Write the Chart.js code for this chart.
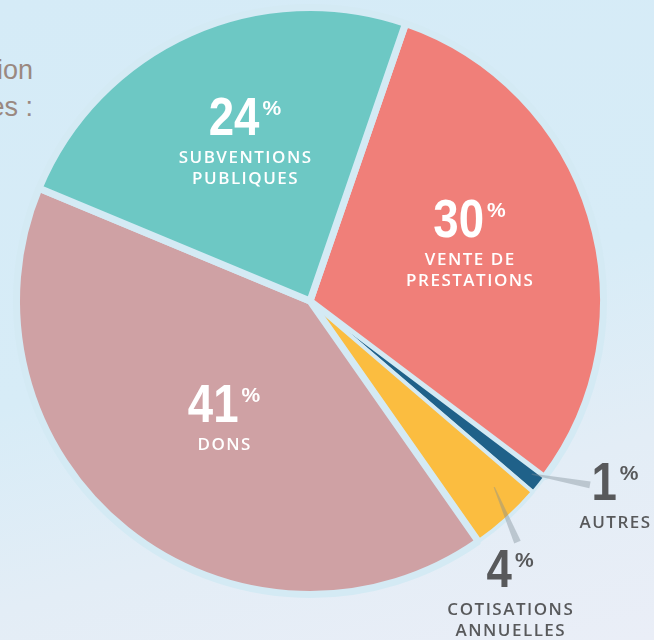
<!DOCTYPE html>
<html lang="fr">
<head>
<meta charset="utf-8">
<script src="https://cdn.jsdelivr.net/npm/chart.js@4.4.1/dist/chart.umd.min.js"></script>
<style>
  html, body { margin: 0; padding: 0; }
  body {
    width: 654px; height: 640px; overflow: hidden; position: relative;
    background: linear-gradient(165deg, #d5ebf7 0%, #d7ecf7 50%, #e3edf6 75%, #eaeef7 100%);
  }
  #wrap { position: absolute; left: 0; top: 0; width: 654px; height: 640px; }
  .intro {
    position: absolute; right: 621px; white-space: nowrap; text-align: right;
    font: 27px 'Liberation Sans Narrow', sans-serif; color: #9a8880;
  }
</style>
</head>
<body>
<div class="intro" style="top:55px">ion</div>
<div class="intro" style="top:92px">es :</div>
<div id="wrap"><canvas id="pieChart" width="654" height="640"></canvas></div>
<script>
// data, clockwise from the top right
const categories = ['VENTE DE PRESTATIONS', 'AUTRES', 'COTISATIONS ANNUELLES', 'DONS', 'SUBVENTIONS PUBLIQUES'];
const labelLines = [['VENTE DE', 'PRESTATIONS'], ['AUTRES'], ['COTISATIONS', 'ANNUELLES'], ['DONS'], ['SUBVENTIONS', 'PUBLIQUES']];
const shares = [30, 1, 4, 41, 24];
const sliceColors = ['#f07f79', '#1f6189', '#fbbd40', '#cfa1a4', '#6dc8c4'];

// where each label sits, relative to its slice (degrees off the mid angle, fraction of radius)
const labelPlacement = [
    { dAngle: -4.9, r: 0.593, inside: true },
    { dAngle: -5.7, r: 1.255, inside: false, leader: [-0.8, 0.97, -5.5, 1.155] },
    { dAngle: 7.2, r: 1.203, inside: false, leader: [-2.5, 0.903, 1.5, 1.097] },
    { dAngle: -3.4, r: 0.512, inside: true },
    { dAngle: 2.8, r: 0.615, inside: true }
];

const GAP = 7;
const gapWidths = [GAP, 3, 4, GAP, GAP];

const sliceLabels = {
    id: 'sliceLabels',
    afterDatasetsDraw(chart) {
        const ctx = chart.ctx;
        const meta = chart.getDatasetMeta(0);
        const values = chart.data.datasets[0].data;

        meta.data.forEach((arc, i) => {
            const p = labelPlacement[i];
            const R = arc.outerRadius - GAP / 2;
            const mid = (arc.startAngle + arc.endAngle) / 2;
            const at = (dDeg, f) => {
                const a = mid + dDeg * Math.PI / 180;
                return [arc.x + Math.cos(a) * R * f, arc.y + Math.sin(a) * R * f];
            };

            ctx.save();
            if (p.leader) {
                const [s0, f0, s1, f1] = p.leader;
                const [x0, y0] = at(s0, f0);
                const [x1, y1] = at(s1, f1);
                const len = Math.hypot(x1 - x0, y1 - y0);
                const nx = -(y1 - y0) / len, ny = (x1 - x0) / len;
                ctx.beginPath();
                ctx.moveTo(x0 + nx * 0.6, y0 + ny * 0.6);
                ctx.lineTo(x1 + nx * 3.5, y1 + ny * 3.5);
                ctx.lineTo(x1 - nx * 3.5, y1 - ny * 3.5);
                ctx.lineTo(x0 - nx * 0.6, y0 - ny * 0.6);
                ctx.closePath();
                ctx.fillStyle = 'rgba(125,140,150,0.4)';
                ctx.fill();
            }

            const [ax, ay] = at(p.dAngle, p.r);
            ctx.fillStyle = p.inside ? '#ffffff' : '#58595b';

            // big condensed percentage, small % sign hung at the top right
            const digits = String(values[i]);
            const squeeze = 0.86;
            ctx.font = "bold 53px 'Liberation Sans Narrow', sans-serif";
            const wd = ctx.measureText(digits).width * squeeze;
            ctx.font = "bold 21px 'Liberation Sans Narrow', sans-serif";
            const wp = ctx.measureText('%').width;
            const total = wd + 3 + wp;
            const left = ax - total / 2;
            ctx.textAlign = 'left';
            ctx.textBaseline = 'alphabetic';
            ctx.save();
            ctx.translate(left, ay);
            ctx.scale(squeeze, 1);
            ctx.font = "bold 53px 'Liberation Sans Narrow', sans-serif";
            ctx.fillText(digits, 0, 0);
            ctx.restore();
            ctx.font = "bold 21px 'Liberation Sans Narrow', sans-serif";
            ctx.fillText('%', left + wd + 3, ay - 20);

            ctx.font = "600 17px 'Open Sans', sans-serif";
            ctx.letterSpacing = '1.5px';
            ctx.textAlign = 'center';
            ctx.textBaseline = 'middle';
            labelLines[i].forEach((line, k) => {
                ctx.fillText(line, ax + 0.7, ay + 23 + 21 * k);
            });
            ctx.restore();
        });
    }
};

new Chart(document.getElementById('pieChart').getContext('2d'), {
    type: 'pie',
    data: {
        labels: categories,
        datasets: [{
            data: shares,
            backgroundColor: sliceColors,
            borderColor: '#d4eaf4',
            borderWidth: gapWidths
        }]
    },
    options: {
        responsive: false,
        animation: false,
        events: [],
        rotation: 19,
        radius: 290 + GAP / 2,
        layout: { padding: { left: 0, right: 34, top: 0, bottom: 38 } },
        plugins: { legend: { display: false }, tooltip: { enabled: false } }
    },
    plugins: [sliceLabels]
});
</script>
</body>
</html>
